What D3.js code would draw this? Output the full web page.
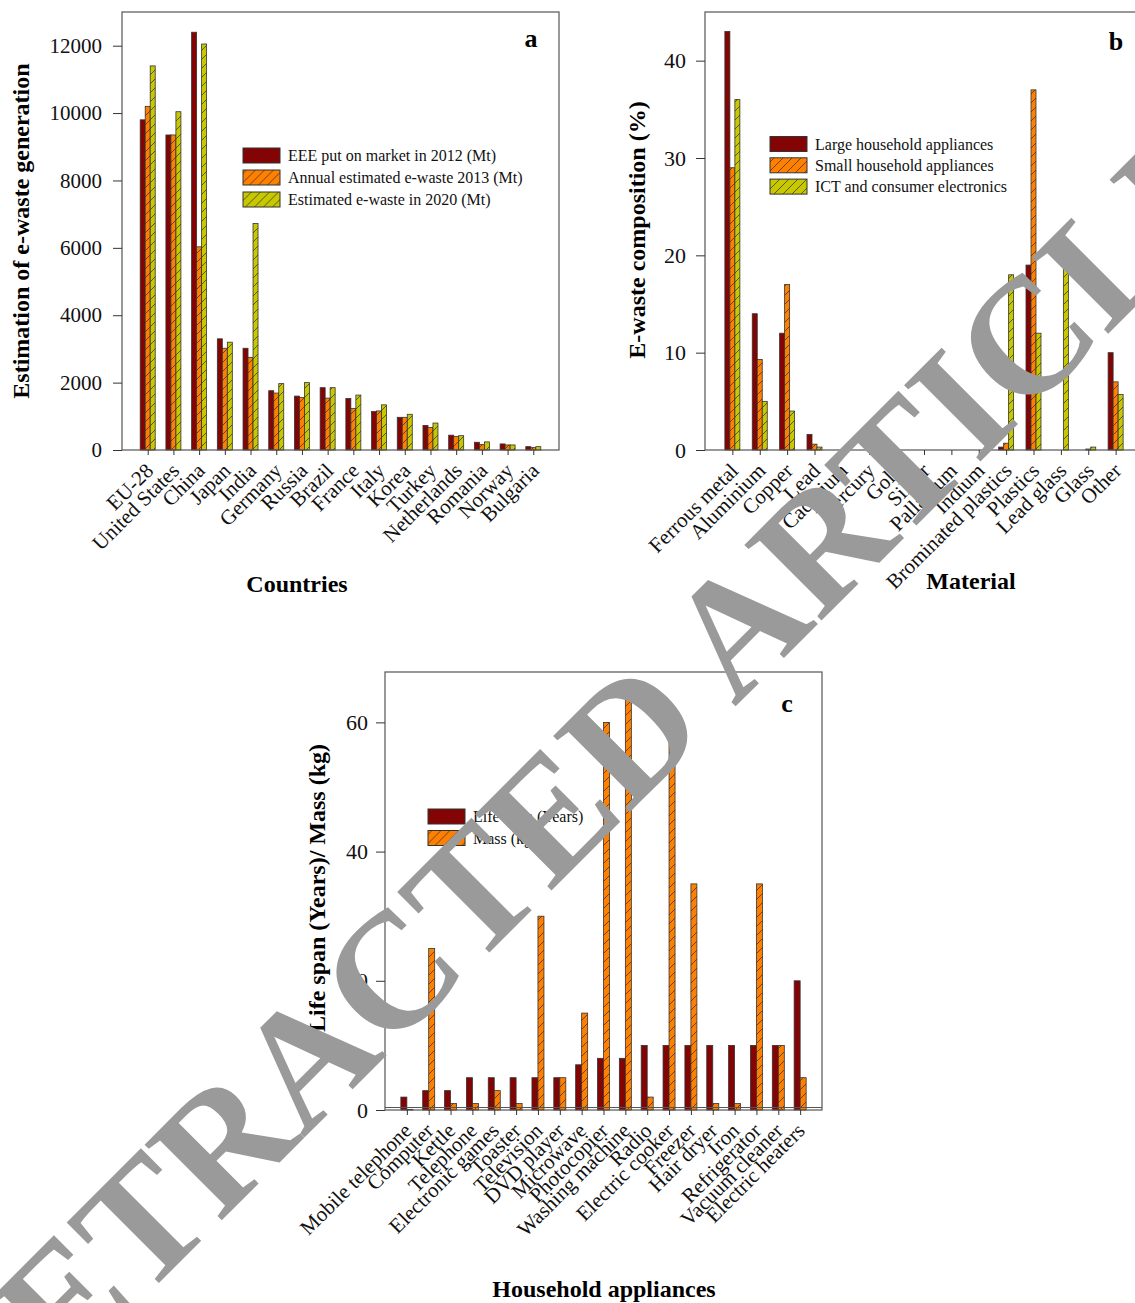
<!DOCTYPE html>
<html>
<head>
<meta charset="utf-8">
<script src="https://cdn.jsdelivr.net/npm/d3@7"></script>
<style>
  body { margin: 0; background: #fff; }
  text { font-family: "Liberation Serif", "Times New Roman", serif; }
</style>
</head>
<body>
<svg id="fig" width="1135" height="1303"></svg>
<script>
// panel a
const countries = ["EU-28", "United States", "China", "Japan", "India", "Germany", "Russia", "Brazil",
  "France", "Italy", "Korea", "Turkey", "Netherlands", "Romania", "Norway", "Bulgaria"];
const eee2012 = [9800, 9350, 12400, 3300, 3020, 1760, 1600, 1850, 1530, 1140, 970, 730, 440, 230, 180, 100];
const ewaste2013 = [10200, 9350, 6030, 3020, 2750, 1690, 1560, 1540, 1230, 1160, 970, 670, 405, 160, 150, 70];
const ewaste2020 = [11400, 10040, 12050, 3200, 6720, 1970, 2000, 1850, 1630, 1340, 1060, 800, 425, 240, 150, 100];
const ticksA = [0, 2000, 4000, 6000, 8000, 10000, 12000];

// panel b
const materials = ["Ferrous metal", "Aluminium", "Copper", "Lead", "Cadmium", "Mercury", "Gold", "Silver",
  "Palladium", "Indium", "Brominated plastics", "Plastics", "Lead glass", "Glass", "Other"];
const largeHA = [43, 14, 12, 1.6, 0, 0, 0, 0, 0, 0, 0.3, 19, 0, 0, 10];
const smallHA = [29, 9.3, 17, 0.6, 0, 0, 0, 0, 0, 0, 0.7, 37, 0, 0.1, 7];
const ictCE = [36, 5, 4, 0.3, 0, 0, 0, 0, 0, 0, 18, 12, 19, 0.3, 5.7];
const ticksB = [0, 10, 20, 30, 40];

// panel c
const appliances = ["Mobile telephone", "Computer", "Kettle", "Telephone", "Electronic games", "Toaster",
  "Television", "DVD player", "Microwave", "Photocopier", "Washing machine", "Radio", "Electric cooker",
  "Freezer", "Hair dryer", "Iron", "Refrigerator", "Vacuum cleaner", "Electric heaters"];
const lifeSpan = [2, 3, 3, 5, 5, 5, 5, 5, 7, 8, 8, 10, 10, 10, 10, 10, 10, 10, 20];
const mass = [0.1, 25, 1, 1, 3, 1, 30, 5, 15, 60, 65, 2, 60, 35, 1, 1, 35, 10, 5];
const ticksC = [0, 20, 40, 60];

const svg = d3.select("#fig");
const defs = svg.append("defs");

function hatch(id, fill) {
  const p = defs.append("pattern").attr("id", id)
    .attr("patternUnits", "userSpaceOnUse").attr("width", 9).attr("height", 9);
  p.append("rect").attr("width", 9).attr("height", 9).attr("fill", fill);
  p.append("path").attr("d", "M-1,1 L1,-1 M0,9 L9,0 M8,10 L10,8")
    .attr("stroke", "#2a2a2a").attr("stroke-width", 0.7);
}
hatch("hRed", "#8b0000");
hatch("hOrange", "#ff8000");
hatch("hOlive", "#c8c800");

function panel(o) {
  const g = svg.append("g");
  const x = d3.scalePoint().domain(o.cats).range([o.left, o.right]).padding(1);
  const y = d3.scaleLinear().domain(o.yDomain).range([o.bottom, o.top]);
  const n = o.series.length;
  const inner = d3.scaleBand().domain(d3.range(n)).range([-o.bw * n / 2, o.bw * n / 2]);

  o.series.forEach((s, si) => {
    g.append("g").selectAll("rect")
      .data(s.values.map((v, i) => ({ v, c: o.cats[i] })).filter(d => d.v > 0))
      .join("rect")
      .attr("x", d => x(d.c) + inner(si))
      .attr("y", d => y(d.v))
      .attr("width", inner.bandwidth())
      .attr("height", d => y(0) - y(d.v))
      .attr("fill", `url(#${s.pat})`)
      .attr("stroke", "#333").attr("stroke-width", 0.8);
  });

  g.append("rect")
    .attr("x", o.left).attr("y", o.top)
    .attr("width", o.right - o.left).attr("height", o.bottom - o.top)
    .attr("fill", "none").attr("stroke", "#555").attr("stroke-width", 1.2);

  const ya = g.append("g").attr("transform", `translate(${o.left},0)`)
    .call(d3.axisLeft(y).tickValues(o.yTicks).tickFormat(d3.format("d")).tickSize(9).tickPadding(o.pad));
  ya.select(".domain").remove();
  ya.selectAll("text").attr("font-family", "Liberation Serif").attr("font-size", o.tf).attr("fill", "#111");
  ya.selectAll("line").attr("stroke", "#333");

  const xa = g.append("g").attr("transform", `translate(0,${o.bottom})`)
    .call(d3.axisBottom(x).tickSize(5).tickFormat(""));
  xa.select(".domain").remove();
  xa.selectAll("line").attr("stroke", "#333");

  g.append("g").selectAll("text").data(o.cats).join("text")
    .attr("transform", d => `translate(${x(d) + o.lx},${o.bottom + o.ly}) rotate(-45)`)
    .attr("text-anchor", "end")
    .attr("font-size", 21).attr("fill", "#111")
    .text(d => d);

  g.append("text").attr("x", o.xt[0]).attr("y", o.xt[1])
    .attr("text-anchor", "middle").attr("font-weight", "bold").attr("font-size", 24)
    .text(o.xTitle);
  g.append("text")
    .attr("transform", `translate(${o.yt[0]},${o.yt[1]}) rotate(-90)`)
    .attr("text-anchor", "middle").attr("font-weight", "bold").attr("font-size", 24)
    .attr("dy", "0.35em")
    .text(o.yTitle);
  g.append("text").attr("x", o.letter[0]).attr("y", o.letter[1])
    .attr("text-anchor", "middle").attr("font-weight", "bold").attr("font-size", 26)
    .text(o.letter[2]);

  const lg = g.append("g").attr("transform", `translate(${o.leg[0]},${o.leg[1]})`);
  o.series.forEach((s, i) => {
    lg.append("rect").attr("x", 0).attr("y", i * o.leg[2] - 7.5)
      .attr("width", 37).attr("height", 15)
      .attr("fill", `url(#${s.pat})`).attr("stroke", "#333").attr("stroke-width", 1);
    lg.append("text").attr("x", 45).attr("y", i * o.leg[2]).attr("dy", "0.35em")
      .attr("font-size", 16).attr("fill", "#111").text(s.name);
  });
  return { x, y, g };
}

panel({
  cats: countries, left: 122, right: 559, top: 12, bottom: 450,
  yDomain: [0, 13000], yTicks: ticksA, pad: 11, tf: 21, bw: 5, lx: 7, ly: 22,
  series: [
    { name: "EEE put on market in 2012 (Mt)", values: eee2012, pat: "hRed" },
    { name: "Annual estimated e-waste 2013 (Mt)", values: ewaste2013, pat: "hOrange" },
    { name: "Estimated e-waste in 2020 (Mt)", values: ewaste2020, pat: "hOlive" }
  ],
  xTitle: "Countries", xt: [297, 592],
  yTitle: "Estimation of e-waste generation", yt: [21, 231],
  letter: [531, 47, "a"], leg: [243, 155.5, 22]
});

panel({
  cats: materials, left: 705, right: 1143, top: 12, bottom: 450,
  yDomain: [0, 45], yTicks: ticksB, pad: 10, tf: 22, bw: 5, lx: 7, ly: 22,
  series: [
    { name: "Large household appliances", values: largeHA, pat: "hRed" },
    { name: "Small household appliances", values: smallHA, pat: "hOrange" },
    { name: "ICT and consumer electronics", values: ictCE, pat: "hOlive" }
  ],
  xTitle: "Material", xt: [971, 589],
  yTitle: "E-waste composition (%)", yt: [637, 230],
  letter: [1116, 50, "b"], leg: [770, 144, 21.3]
});

const pc = panel({
  cats: appliances, left: 385, right: 822, top: 672, bottom: 1110,
  yDomain: [0, 67.8], yTicks: ticksC, pad: 8, tf: 22, bw: 6, lx: 6, ly: 22,
  series: [
    { name: "Life span (Years)", values: lifeSpan, pat: "hRed" },
    { name: "Mass (kg)", values: mass, pat: "hOrange" }
  ],
  xTitle: "Household appliances", xt: [604, 1297],
  yTitle: "Life span (Years)/ Mass (kg)", yt: [317, 888],
  letter: [787, 712, "c"], leg: [428, 816.5, 21.5]
});
pc.g.append("line").attr("x1", 385).attr("x2", 822)
  .attr("y1", 1107.5).attr("y2", 1107.5).attr("stroke", "#555").attr("stroke-width", 1);

// watermark
svg.append("text")
  .attr("transform", "translate(582,783) rotate(-45)")
  .attr("text-anchor", "middle").attr("dy", "0.33em")
  .attr("font-size", 165).attr("font-weight", "bold").attr("fill", "#9a9a9a")
  .text("RETRACTED ARTICLE");
</script>
</body>
</html>
